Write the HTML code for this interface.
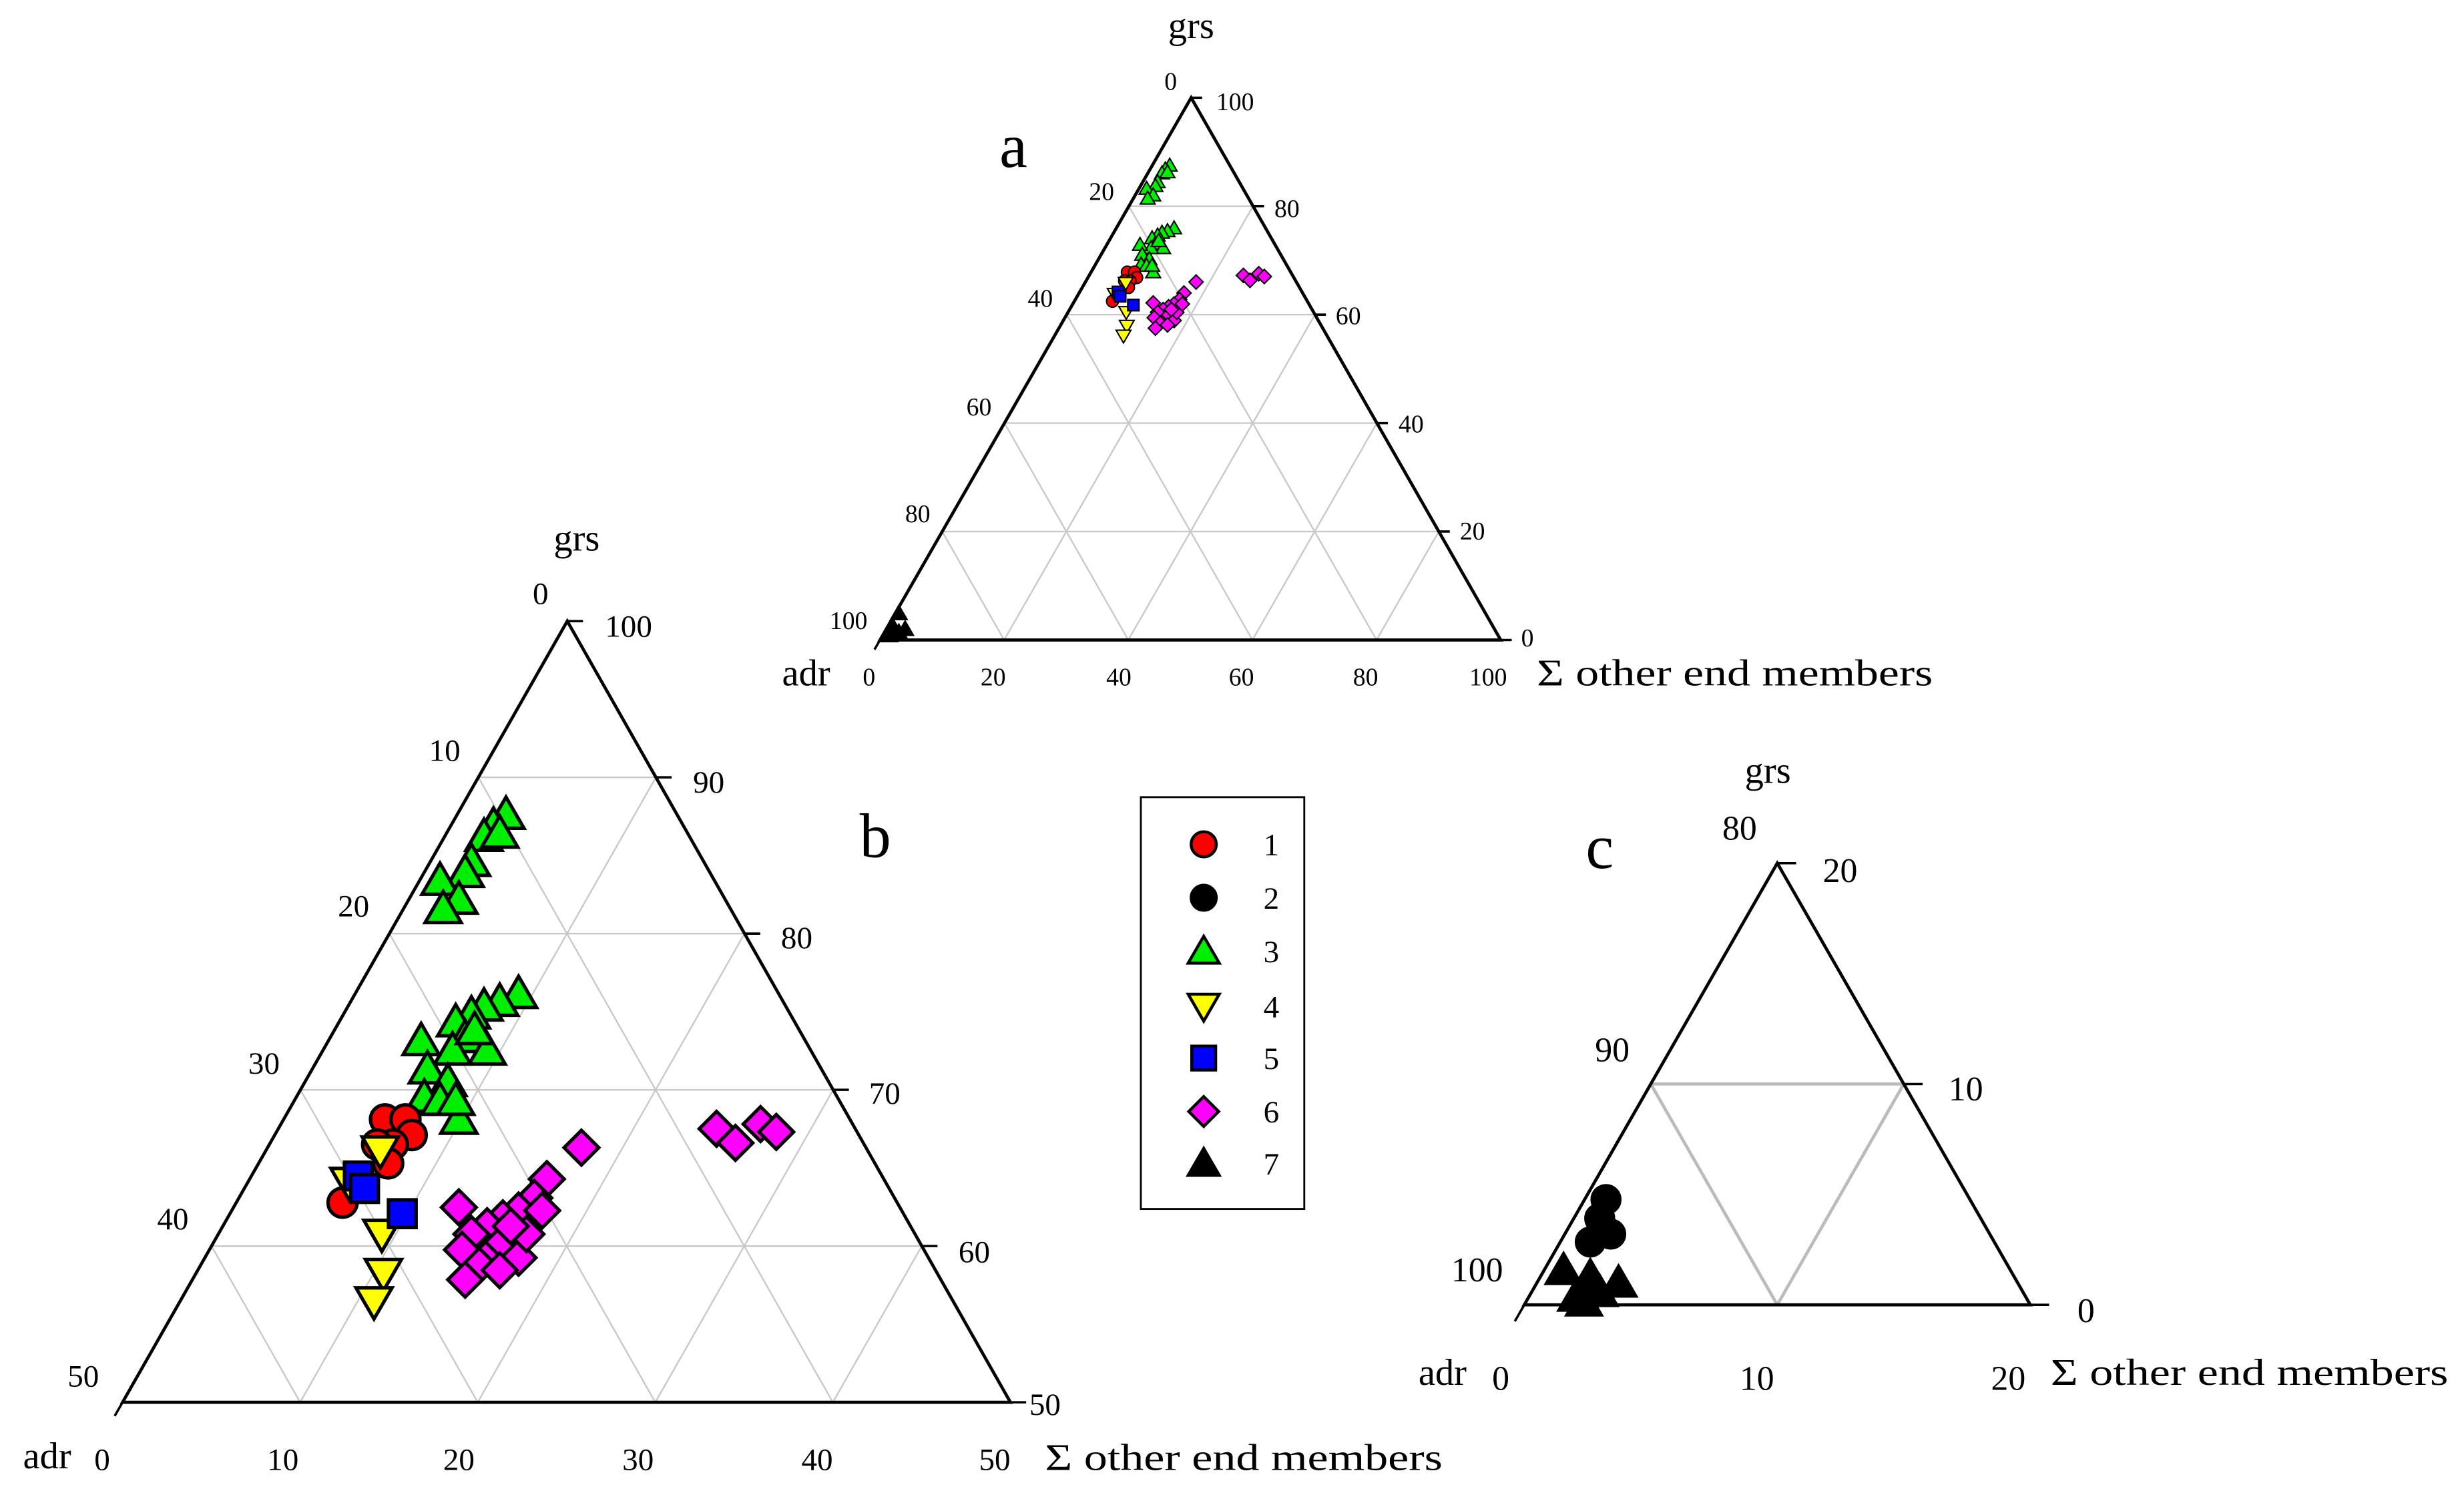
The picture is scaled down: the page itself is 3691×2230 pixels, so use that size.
<!DOCTYPE html>
<html><head><meta charset="utf-8"><style>
html,body{margin:0;padding:0;background:#fff}
svg{display:block}
text{font-family:"Liberation Serif",serif;fill:#000}
</style></head><body>
<svg id="s" width="3691" height="2230" viewBox="0 0 1568 947" xmlns="http://www.w3.org/2000/svg">
<rect width="1568" height="947" fill="#fff"/>
<g id="grid"></g>
<g id="tri"></g>
<g id="pts"></g>
<g font-size="16">
<text x="758" y="24" font-size="24" text-anchor="middle">grs</text>
<text x="636" y="106" font-size="40">a</text>
<text x="745" y="57" text-anchor="middle">0</text>
<text x="786" y="70" text-anchor="middle">100</text>
<text x="701" y="127" text-anchor="middle">20</text>
<text x="819" y="138" text-anchor="middle">80</text>
<text x="662" y="195" text-anchor="middle">40</text>
<text x="858" y="206" text-anchor="middle">60</text>
<text x="623" y="264" text-anchor="middle">60</text>
<text x="898" y="275" text-anchor="middle">40</text>
<text x="584" y="332" text-anchor="middle">80</text>
<text x="937" y="343" text-anchor="middle">20</text>
<text x="540" y="400" text-anchor="middle">100</text>
<text x="972" y="411" text-anchor="middle">0</text>
<text x="553" y="436" text-anchor="middle">0</text>
<text x="632" y="436" text-anchor="middle">20</text>
<text x="712" y="436" text-anchor="middle">40</text>
<text x="790" y="436" text-anchor="middle">60</text>
<text x="869" y="436" text-anchor="middle">80</text>
<text x="947" y="436" text-anchor="middle">100</text>
<text x="513" y="436" font-size="24" text-anchor="middle">adr</text>
<text x="978" y="436" font-size="24" textLength="252" lengthAdjust="spacingAndGlyphs">Σ other end members</text>
</g>
<g font-size="20">
<text x="367" y="350" font-size="24" text-anchor="middle">grs</text>
<text x="557" y="545" font-size="40" text-anchor="middle">b</text>
<text x="344" y="384" text-anchor="middle">0</text>
<text x="385" y="405" >100</text>
<text x="283" y="484" text-anchor="middle">10</text>
<text x="441" y="504">90</text>
<text x="225" y="583" text-anchor="middle">20</text>
<text x="497" y="603">80</text>
<text x="168" y="683" text-anchor="middle">30</text>
<text x="553" y="702">70</text>
<text x="110" y="782" text-anchor="middle">40</text>
<text x="610" y="803">60</text>
<text x="53" y="882" text-anchor="middle">50</text>
<text x="665" y="900" text-anchor="middle">50</text>
<text x="65" y="935" text-anchor="middle">0</text>
<text x="180" y="935" text-anchor="middle">10</text>
<text x="292" y="935" text-anchor="middle">20</text>
<text x="406" y="935" text-anchor="middle">30</text>
<text x="520" y="935" text-anchor="middle">40</text>
<text x="633" y="935" text-anchor="middle">50</text>
<text x="30" y="934" font-size="24" text-anchor="middle">adr</text>
<text x="665" y="935" font-size="24" textLength="253" lengthAdjust="spacingAndGlyphs">Σ other end members</text>
</g>
<g font-size="22">
<text x="1125" y="498" font-size="24" text-anchor="middle">grs</text>
<text x="1018" y="552" font-size="40" text-anchor="middle">c</text>
<text x="1107" y="534" text-anchor="middle">80</text>
<text x="1160" y="561">20</text>
<text x="1026" y="675" text-anchor="middle">90</text>
<text x="1240" y="700">10</text>
<text x="940" y="815" text-anchor="middle">100</text>
<text x="1322" y="841">0</text>
<text x="955" y="884" text-anchor="middle">0</text>
<text x="1118" y="884" text-anchor="middle">10</text>
<text x="1278" y="884" text-anchor="middle">20</text>
<text x="918" y="881" font-size="24" text-anchor="middle">adr</text>
<text x="1305" y="881" font-size="24" textLength="253" lengthAdjust="spacingAndGlyphs">Σ other end members</text>
</g>
<rect x="726" y="507" width="104" height="262" fill="none" stroke="#000" stroke-width="1.2"/>
<g id="leg"></g>
<g font-size="20">
<text x="804" y="544">1</text><text x="804" y="578">2</text><text x="804" y="612">3</text>
<text x="804" y="647">4</text><text x="804" y="680">5</text><text x="804" y="714">6</text><text x="804" y="747">7</text>
</g>
</svg>
<script>
const NS="http://www.w3.org/2000/svg";
function el(p,t,a){const e=document.createElementNS(NS,t);for(const k in a)e.setAttribute(k,a[k]);document.getElementById(p).appendChild(e);return e;}
function L(P,Q,t){return [P[0]+(Q[0]-P[0])*t,P[1]+(Q[1]-P[1])*t];}
function line(p,a,b,c,w){el(p,'line',{x1:a[0],y1:a[1],x2:b[0],y2:b[1],stroke:c,'stroke-width':w});}
function tri(A,Lf,R,n,gc,gw,tk){
 for(let i=1;i<n;i++){const t=i/n;
  line('grid',L(A,Lf,t),L(A,R,t),gc,gw);
  line('grid',L(Lf,R,t),L(A,R,t),gc,gw);
  line('grid',L(Lf,R,t),L(Lf,A,t),gc,gw);}
 el('tri','polygon',{points:[A,Lf,R].map(p=>p.join(',')).join(' '),fill:'none',stroke:'#000','stroke-width':2});
 for(let i=0;i<=n;i++){const t=i/n;
  let p=L(A,R,t);line('tri',p,[p[0]+tk,p[1]],'#000',1.5);
  p=L(A,Lf,t);line('tri',p,[p[0]-tk*0.5,p[1]+tk*0.87],'#000',1.5);
 }
}
tri([758,62],[560,407],[955,407],5,'#c8c8c8',1,7);
tri([361,395],[78,892],[643,892],5,'#c8c8c8',1,10);
tri([1131,549],[970,830],[1292,830],2,'#bbbbbb',2,12);
function mk(g,type,x,y,s){
 const st={stroke:'#000','stroke-width':Math.max(0.6,s/10)};
 if(type==1||type==2){el(g,'circle',Object.assign({cx:x,cy:y,r:s*0.42,fill:type==1?'#f00':'#000'},st));}
 else if(type==3||type==7){el(g,'polygon',Object.assign({points:`${x},${y-s*0.5} ${x-s*0.52},${y+s*0.4} ${x+s*0.52},${y+s*0.4}`,fill:type==3?'#0e0':'#000'},st));}
 else if(type==4){el(g,'polygon',Object.assign({points:`${x},${y+s*0.5} ${x-s*0.52},${y-s*0.4} ${x+s*0.52},${y-s*0.4}`,fill:'#ff0'},st));}
 else if(type==5){el(g,'rect',Object.assign({x:x-s*0.4,y:y-s*0.4,width:s*0.8,height:s*0.8,fill:'#00f'},st));}
 else if(type==6){el(g,'polygon',Object.assign({points:`${x},${y-s*0.5} ${x+s*0.5},${y} ${x},${y+s*0.5} ${x-s*0.5},${y}`,fill:'#f0f'},st));}
}
const B=[
[3,[[322,518],[314,525],[308,532],[318,530],[300,548],[296,555],[280,560],[292,572],[282,578],[330,632],[318,637],[308,640],[300,645],[290,650],[296,660],[310,668],[288,668],[268,662],[272,680],[285,688],[270,698],[292,712],[280,700],[302,655],[290,700]]],
[6,[[370,730],[348,750],[340,762],[330,770],[320,775],[310,780],[300,785],[292,768],[294,795],[310,800],[320,790],[330,800],[305,805],[296,814],[318,808],[335,785],[325,780],[345,770],[456,718],[468,727],[484,715],[494,720]]],
[1,[[245,712],[258,712],[262,722],[250,728],[240,728],[247,740],[218,765]]],
[4,[[242,732],[222,752],[243,785],[244,810],[238,828]]],
[5,[[228,748],[232,756],[256,772]]]
];
for(const [t,ps] of B){for(const p of ps){mk('pts',t,p[0],p[1],22);
 mk('pts',t,758+0.35*(p[0]-361),62+0.35*(p[1]-395),9);}}
for(const p of [[1022,763],[1018,775],[1025,785],[1012,790]])mk('pts',2,p[0],p[1],21);
for(const p of [[995,808],[1012,812],[1030,816],[1003,825],[1018,822],[1008,828]])mk('pts',7,p[0],p[1],21);
for(const p of [[572,390],[568,398],[572,402],[566,404],[576,400]])mk('pts',7,p[0],p[1],10);
[1,2,3,4,5,6,7].forEach((t,i)=>mk('leg',t,766,[537,571,605,640,673,707,740][i],19));
</script>
</body></html>
